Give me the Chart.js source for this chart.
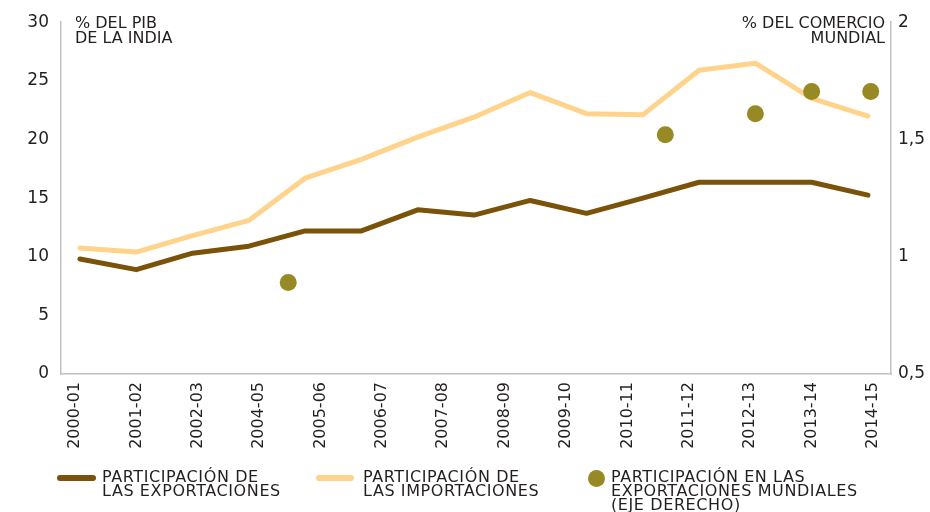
<!DOCTYPE html>
<html>
<head>
<meta charset="utf-8">
<script src="https://cdn.jsdelivr.net/npm/chart.js@4"></script>
<style>
  html, body { margin: 0; padding: 0; background: #fff; }
  #wrap { position: relative; width: 930px; height: 512px; font-family: "DejaVu Sans", sans-serif; color: #231f20; }
  #c { position: absolute; left: 0; top: 0; }
  .lg { position: absolute; font-size: 16px; line-height: 14px; letter-spacing: 0.6px; white-space: pre-line; color: #231f20; }
  .sw { position: absolute; }
</style>
</head>
<body>
<div id="wrap">
  <canvas id="c" width="930" height="512"></canvas>
  <div id="legend"></div>
</div>
<script>
// ---- data ----
const lineYears = ["2000-01","2001-02","2002-03","2003-04","2004-05","2005-06","2006-07","2007-08","2008-09","2009-10","2010-11","2011-12","2012-13","2013-14","2014-15"];
const exportsShare = [9.8, 8.9, 10.3, 10.9, 12.2, 12.2, 14.0, 13.55, 14.8, 13.7, 15.0, 16.35, 16.35, 16.35, 15.25];
const importsShare = [10.75, 10.4, 11.8, 13.1, 16.7, 18.3, 20.2, 21.9, 24.0, 22.2, 22.1, 25.9, 26.5, 23.5, 22.0];
const worldShareX = [2003.7, 2010.4, 2012.0, 2013.0, 2014.05];
const worldShareY = [0.89, 1.52, 1.61, 1.705, 1.705];
const xTickLabels = ["2000-01","2001-02","2002-03","2004-05","2005-06","2006-07","2007-08","2008-09","2009-10","2010-11","2011-12","2012-13","2013-14","2014-15"];
const leftTicks = [0, 5, 10, 15, 20, 25, 30];
const rightTicks = [0.5, 1, 1.5, 2];
const seriesLabels = ["PARTICIPACIÓN DE\nLAS EXPORTACIONES", "PARTICIPACIÓN DE\nLAS IMPORTACIONES", "PARTICIPACIÓN EN LAS\nEXPORTACIONES MUNDIALES\n(EJE DERECHO)"];
const leftTitle = ["% DEL PIB", "DE LA INDIA"];
const rightTitle = ["% DEL COMERCIO", "MUNDIAL"];

// ---- styles ----
const C_EXP = "#7b5209";
const C_IMP = "#ffd38b";
const C_DOT = "#978a24";
const C_AXIS = "#c2c2c2";
const C_TXT = "#231f20";
const FONT = "DejaVu Sans";

const yearStart = lineYears.map(s => parseInt(s.slice(0, 4), 10));

const titlesPlugin = {
  id: 'titles',
  afterDraw(chart) {
    const ctx = chart.ctx, a = chart.chartArea;
    ctx.save();
    ctx.font = "16px '" + FONT + "'";
    ctx.fillStyle = C_TXT;
    ctx.textBaseline = 'middle';
    ctx.textAlign = 'left';
    leftTitle.forEach((t, i) => ctx.fillText(t, a.left + 14, 24 + i * 15));
    ctx.textAlign = 'right';
    rightTitle.forEach((t, i) => ctx.fillText(t, a.right - 6, 24 + i * 15));
    ctx.restore();
  }
};

const chart = new Chart(document.getElementById('c'), {
  data: {
    datasets: [
      {
        type: 'scatter',
        label: seriesLabels[2],
        data: worldShareX.map((x, i) => ({ x: x, y: worldShareY[i] })),
        xAxisID: 'x', yAxisID: 'y1',
        backgroundColor: C_DOT, borderColor: C_DOT,
        pointRadius: 8.5, pointBorderWidth: 0,
        order: 0
      },
      {
        type: 'line',
        label: seriesLabels[0],
        data: yearStart.map((x, i) => ({ x: x, y: exportsShare[i] })),
        xAxisID: 'x', yAxisID: 'y',
        borderColor: C_EXP, borderWidth: 5, pointRadius: 0,
        borderCapStyle: 'round', borderJoinStyle: 'round', tension: 0,
        order: 1
      },
      {
        type: 'line',
        label: seriesLabels[1],
        data: yearStart.map((x, i) => ({ x: x, y: importsShare[i] })),
        xAxisID: 'x', yAxisID: 'y',
        borderColor: C_IMP, borderWidth: 5, pointRadius: 0,
        borderCapStyle: 'round', borderJoinStyle: 'round', tension: 0,
        order: 1
      }
    ]
  },
  options: {
    responsive: false,
    animation: false,
    layout: { padding: { top: 22, left: 0, right: 0, bottom: 0 } },
    plugins: { legend: { display: false }, tooltip: { enabled: false } },
    scales: {
      x: {
        type: 'linear', display: false,
        min: yearStart[0] - 0.3375, max: yearStart[yearStart.length - 1] + 0.41
      },
      xl: {
        type: 'linear', position: 'bottom',
        min: -0.228, max: xTickLabels.length - 1 + 0.293,
        afterBuildTicks: (s) => { s.ticks = xTickLabels.map((_, i) => ({ value: i })); },
        afterFit: (s) => { s.height = 138; },
        grid: { display: false, drawTicks: false },
        border: { display: true, color: C_AXIS, width: 1.5 },
        ticks: {
          autoSkip: false, maxRotation: 90, minRotation: 90, padding: 8,
          font: { family: FONT, size: 16 }, color: C_TXT,
          callback: (v) => xTickLabels[v]
        }
      },
      y: {
        type: 'linear', position: 'left',
        min: leftTicks[0], max: leftTicks[leftTicks.length - 1],
        afterBuildTicks: (s) => { s.ticks = leftTicks.map(v => ({ value: v })); },
        afterFit: (s) => { s.width = 61; },
        grid: { display: false, drawTicks: false },
        border: { display: true, color: C_AXIS, width: 1.5 },
        ticks: { padding: 12, font: { family: FONT, size: 17 }, color: C_TXT }
      },
      y1: {
        type: 'linear', position: 'right',
        min: rightTicks[0], max: rightTicks[rightTicks.length - 1],
        afterBuildTicks: (s) => { s.ticks = rightTicks.map(v => ({ value: v })); },
        afterFit: (s) => { s.width = 39; },
        grid: { display: false, drawTicks: false },
        border: { display: true, color: C_AXIS, width: 1.5 },
        ticks: {
          padding: 7, font: { family: FONT, size: 17 }, color: C_TXT,
          callback: (v) => String(v).replace('.', ',')
        }
      }
    }
  },
  plugins: [titlesPlugin]
});

// ---- HTML legend built from the datasets ----
const legend = document.getElementById('legend');
const items = [
  { ds: 1, kind: 'line', swLeft: 57, swWidth: 39, textLeft: 102 },
  { ds: 2, kind: 'line', swLeft: 316, swWidth: 38, textLeft: 363 },
  { ds: 0, kind: 'dot', swLeft: 588, swWidth: 17, textLeft: 611 }
];
items.forEach(it => {
  const d = chart.data.datasets[it.ds];
  const sw = document.createElement('div');
  sw.className = 'sw';
  if (it.kind === 'line') {
    Object.assign(sw.style, { left: it.swLeft + 'px', top: '475px', width: it.swWidth + 'px', height: '6px', borderRadius: '3px', background: d.borderColor });
  } else {
    Object.assign(sw.style, { left: it.swLeft + 'px', top: '470px', width: '17px', height: '17px', borderRadius: '50%', background: d.backgroundColor });
  }
  legend.appendChild(sw);
  const tx = document.createElement('div');
  tx.className = 'lg';
  tx.style.left = it.textLeft + 'px';
  tx.style.top = '470px';
  tx.textContent = d.label;
  legend.appendChild(tx);
});
</script>
</body>
</html>
